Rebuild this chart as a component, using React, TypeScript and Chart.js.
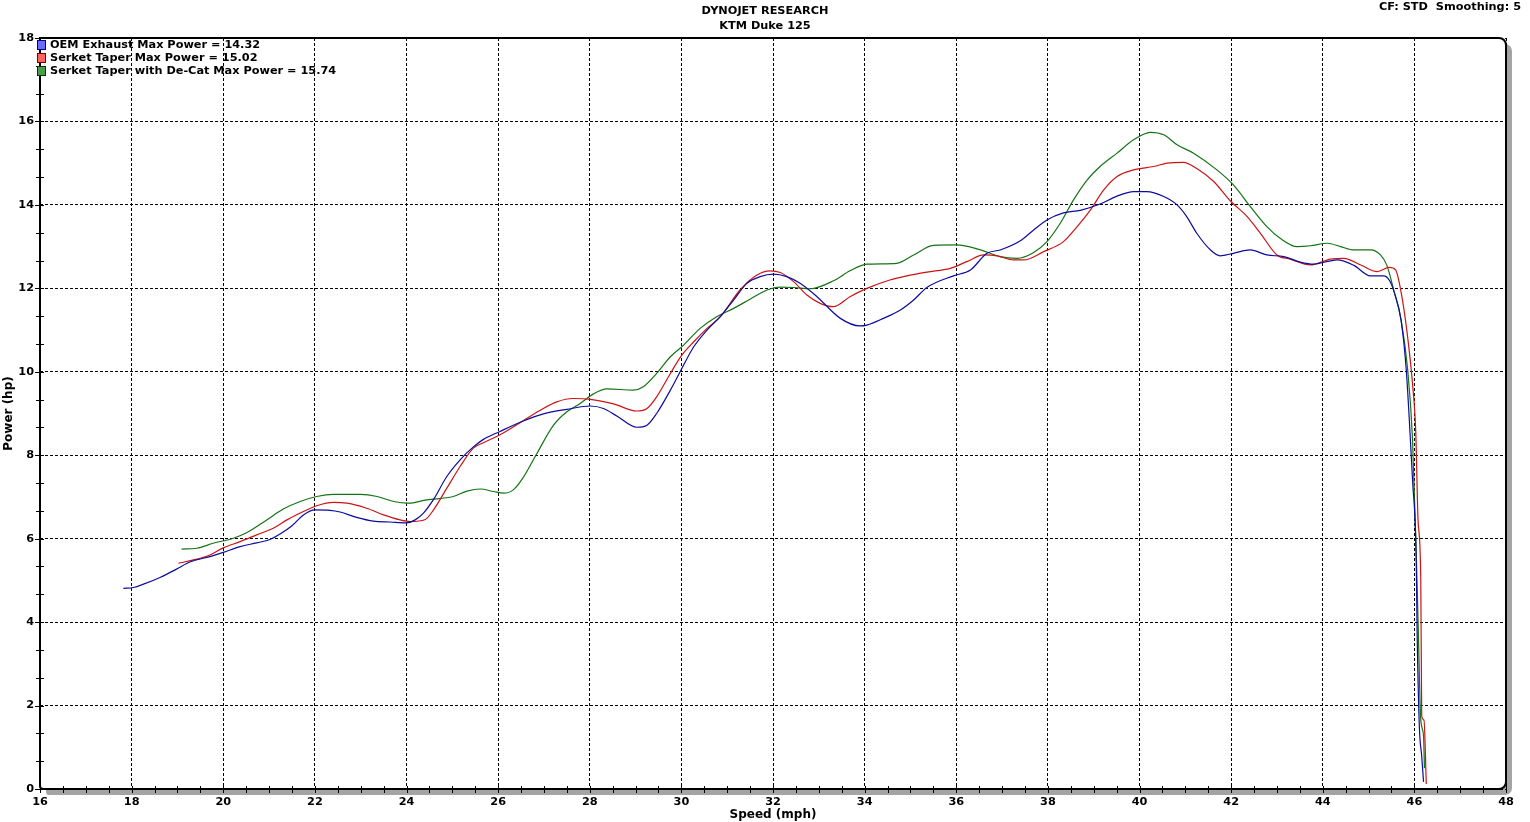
import { useEffect, useRef } from 'react'
import { Chart, registerables, Plugin } from 'chart.js'

Chart.register(...registerables)

const FONT = '"DejaVu Sans", Verdana, sans-serif'

// Speed (mph) / power (hp)
const oemSpeed = [
  17.82, 18.04, 18.26, 18.62, 18.98, 19.27, 19.71, 20.0, 20.37, 20.73, 21.02, 21.24, 21.5, 21.75, 22.0, 22.33,
  22.55, 22.91, 23.28, 23.64, 24.0, 24.19, 24.37, 24.59, 24.88, 25.17, 25.46, 25.68, 26.04, 26.55, 26.99, 27.5,
  28.01, 28.3, 28.59, 29.03, 29.25, 29.46, 29.76, 30.01, 30.27, 30.56, 30.85, 31.14, 31.43, 31.72, 32.01, 32.3,
  32.59, 32.96, 33.47, 33.9, 34.05, 34.41, 34.78, 35.07, 35.36, 35.94, 36.31, 36.67, 36.96, 37.4, 37.69, 37.98,
  38.34, 38.71, 39.14, 39.51, 39.87, 40.16, 40.53, 40.82, 41.03, 41.25, 41.55, 41.76, 42.05, 42.42, 42.78, 43.15,
  43.51, 43.8, 44.17, 44.31, 44.68, 45.04, 45.33, 45.45, 45.56, 45.71, 45.82, 45.89, 45.96, 46.04, 46.06, 46.11,
  46.16, 46.2,
]
const oemPower = [
  4.81, 4.83, 4.91, 5.07, 5.27, 5.44, 5.57, 5.67, 5.81, 5.9, 5.98, 6.11, 6.31, 6.57, 6.69, 6.68,
  6.64, 6.51, 6.42, 6.4, 6.38, 6.45, 6.61, 6.94, 7.49, 7.89, 8.2, 8.38, 8.57, 8.82, 8.99, 9.1,
  9.18, 9.12, 8.94, 8.67, 8.72, 9.0, 9.56, 10.08, 10.6, 11.0, 11.32, 11.72, 12.12, 12.28, 12.34, 12.28,
  12.12, 11.8, 11.28, 11.1, 11.12, 11.28, 11.48, 11.72, 12.02, 12.3, 12.44, 12.84, 12.92, 13.14, 13.4, 13.64,
  13.81, 13.87, 14.02, 14.21, 14.32, 14.32, 14.2, 14.0, 13.72, 13.32, 12.92, 12.78, 12.84, 12.92, 12.8, 12.76,
  12.63, 12.58, 12.66, 12.68, 12.55, 12.3, 12.3, 12.2, 11.91, 11.24, 10.09, 8.84, 7.41, 5.49, 3.76, 1.46,
  0.79, 0.17,
]

const taperSpeed = [
  19.02, 19.35, 19.71, 20.0, 20.37, 20.73, 21.09, 21.39, 21.75, 22.04, 22.41, 22.7, 23.13, 23.5, 23.86, 24.08,
  24.41, 24.59, 24.88, 25.17, 25.46, 25.68, 26.04, 26.48, 26.92, 27.28, 27.64, 28.01, 28.52, 29.03, 29.25, 29.46,
  29.76, 30.01, 30.27, 30.56, 30.85, 31.28, 31.65, 31.94, 32.16, 32.45, 32.74, 33.03, 33.32, 33.68, 34.05, 34.55,
  34.92, 35.36, 35.87, 36.23, 36.6, 36.89, 37.25, 37.47, 37.91, 38.34, 38.64, 38.93, 39.22, 39.51, 39.87, 40.31,
  40.6, 40.96, 41.25, 41.62, 41.98, 42.35, 42.64, 43.0, 43.29, 43.73, 44.17, 44.46, 44.83, 45.19, 45.45, 45.59,
  45.71, 45.84, 45.96, 46.03, 46.08, 46.14, 46.16, 46.21, 46.26,
]
const taperPower = [
  5.41, 5.49, 5.61, 5.78, 5.93, 6.09, 6.25, 6.45, 6.65, 6.79, 6.87, 6.85, 6.73, 6.57, 6.45, 6.41,
  6.46, 6.69, 7.21, 7.73, 8.17, 8.3, 8.49, 8.78, 9.08, 9.28, 9.36, 9.34, 9.23, 9.06, 9.12, 9.4,
  9.96, 10.4, 10.72, 11.04, 11.32, 11.96, 12.32, 12.42, 12.38, 12.16, 11.84, 11.64, 11.56, 11.8, 12.0, 12.2,
  12.3, 12.39, 12.48, 12.64, 12.8, 12.78, 12.68, 12.68, 12.88, 13.12, 13.48, 13.88, 14.36, 14.68, 14.84, 14.92,
  15.0, 15.02, 14.87, 14.56, 14.1, 13.72, 13.32, 12.8, 12.7, 12.56, 12.7, 12.72, 12.56, 12.4, 12.5, 12.44,
  11.91, 10.95, 9.71, 8.56, 6.45, 5.01, 1.75, 1.65, 0.12,
]

const decatSpeed = [
  19.09, 19.42, 19.78, 20.22, 20.51, 20.95, 21.31, 21.68, 22.04, 22.41, 22.99, 23.36, 23.72, 24.04, 24.44, 25.02,
  25.32, 25.61, 25.9, 26.12, 26.33, 26.55, 26.84, 27.21, 27.5, 27.79, 28.08, 28.37, 28.95, 29.17, 29.46, 29.76,
  30.05, 30.41, 30.77, 31.14, 31.5, 31.87, 32.16, 32.45, 32.81, 33.32, 33.68, 34.05, 34.7, 35.07, 35.5, 36.01,
  36.53, 36.96, 37.33, 37.69, 37.98, 38.27, 38.56, 38.86, 39.14, 39.51, 39.87, 40.24, 40.53, 40.82, 41.18, 41.69,
  42.05, 42.42, 42.78, 43.07, 43.44, 43.73, 44.1, 44.39, 44.68, 45.04, 45.26, 45.4, 45.56, 45.71, 45.85, 45.96,
  46.04, 46.08, 46.14, 46.2, 46.22,
]
const decatPower = [
  5.75, 5.77, 5.89, 6.01, 6.14, 6.45, 6.71, 6.89, 7.01, 7.06, 7.06, 7.01, 6.89, 6.85, 6.93, 7.01,
  7.14, 7.19, 7.13, 7.09, 7.17, 7.47, 8.03, 8.72, 9.04, 9.24, 9.47, 9.59, 9.56, 9.64, 9.96, 10.36,
  10.64, 11.04, 11.32, 11.52, 11.74, 11.96, 12.03, 12.02, 11.99, 12.18, 12.42, 12.58, 12.6, 12.8, 13.03, 13.04,
  12.92, 12.76, 12.72, 12.86, 13.12, 13.56, 14.12, 14.6, 14.92, 15.24, 15.56, 15.74, 15.68, 15.44, 15.24, 14.84,
  14.48, 13.96, 13.48, 13.2, 13.0, 13.02, 13.08, 13.0, 12.92, 12.92, 12.8, 12.55, 11.91, 11.24, 10.09, 8.37,
  5.68, 4.05, 1.65, 1.27, 0.5,
]

const runNames = ['OEM Exhaust', 'Serket Taper', 'Serket Taper with De-Cat']
const maxPower = [14.32, 15.02, 15.74]
const lineColors = ['#0c0c9e', '#cc1414', '#147414']
const swatchFill = ['#6a6aff', '#ff6464', '#4c9c4c']
const swatchEdge = ['#000080', '#7a0000', '#003800']

const speedTicks = [16, 18, 20, 22, 24, 26, 28, 30, 32, 34, 36, 38, 40, 42, 44, 46, 48]
const powerTicks = [0, 2, 4, 6, 8, 10, 12, 14, 16, 18]

const headerLines = ['DYNOJET RESEARCH', 'KTM Duke 125']
const runInfo = 'CF: STD  Smoothing: 5'

const toPoints = (xs: number[], ys: number[]) => xs.map((x, i) => ({ x, y: ys[i] }))

// frame with drop shadow, minor ticks, legend and header text
const dynoSheet: Plugin = {
  id: 'dynoSheet',
  beforeDraw(chart) {
    const { ctx, chartArea: a } = chart
    const w = a.right - a.left
    const h = a.bottom - a.top
    ctx.save()
    ctx.fillStyle = '#fff'
    ctx.fillRect(0, 0, chart.width, chart.height)
    ctx.fillStyle = '#a4a4a4'
    ctx.beginPath()
    ctx.roundRect(a.left + 6, a.top + 6, w, h, [0, 7, 7, 3])
    ctx.fill()
    ctx.fillStyle = '#fff'
    ctx.beginPath()
    ctx.roundRect(a.left, a.top, w, h, [0, 7, 7, 3])
    ctx.fill()
    ctx.restore()
  },
  afterDraw(chart) {
    const { ctx, chartArea: a } = chart
    const xs = chart.scales.x
    const ys = chart.scales.y
    ctx.save()

    ctx.strokeStyle = '#000'
    ctx.lineWidth = 2
    ctx.beginPath()
    ctx.roundRect(a.left, a.top, a.right - a.left, a.bottom - a.top, [0, 7, 7, 3])
    ctx.stroke()

    ctx.lineWidth = 1
    ctx.beginPath()
    for (let v = 16; v <= 48; v += 0.5) {
      const px = Math.round(xs.getPixelForValue(v)) + 0.5
      ctx.moveTo(px, a.bottom - 3)
      ctx.lineTo(px, a.bottom + 4)
    }
    for (let i = 0; i <= 27; i++) {
      const py = Math.round(ys.getPixelForValue((i * 2) / 3)) + 0.5
      ctx.moveTo(a.left - (i % 3 === 0 ? 5 : 4), py)
      ctx.lineTo(a.left + 4, py)
    }
    ctx.stroke()

    ctx.font = `bold 11.3px ${FONT}`
    ctx.textBaseline = 'middle'
    ctx.textAlign = 'left'
    runNames.forEach((name, i) => {
      const cy = a.top + 7 + i * 13
      ctx.fillStyle = swatchFill[i]
      ctx.fillRect(a.left - 2.5, cy - 4.5, 8, 9)
      ctx.strokeStyle = swatchEdge[i]
      ctx.strokeRect(a.left - 2.5, cy - 4.5, 8, 9)
      ctx.fillStyle = '#000'
      ctx.fillText(`${name} Max Power = ${maxPower[i].toFixed(2)}`, a.left + 10, cy + 0.5)
    })

    ctx.textAlign = 'center'
    headerLines.forEach((line, i) => ctx.fillText(line, chart.width / 2, 11 + i * 15.5))
    ctx.textAlign = 'right'
    ctx.fillText(runInfo, chart.width - 9, 7)
    ctx.restore()
  },
}

export default function App() {
  const chartRef = useRef<HTMLCanvasElement>(null)
  const chartInstance = useRef<Chart | null>(null)

  useEffect(() => {
    if (!chartRef.current) return
    if (chartInstance.current) chartInstance.current.destroy()

    const tickFont = { family: FONT, size: 11.3, weight: 'bold' as const }
    const titleFont = { family: FONT, size: 12, weight: 'bold' as const }
    const series = [
      toPoints(oemSpeed, oemPower),
      toPoints(taperSpeed, taperPower),
      toPoints(decatSpeed, decatPower),
    ]

    chartInstance.current = new Chart(chartRef.current, {
      type: 'line',
      data: {
        datasets: series.map((data, i) => ({
          label: runNames[i],
          data,
          borderColor: lineColors[i],
          borderWidth: 1.2,
          pointRadius: 0,
          cubicInterpolationMode: 'monotone' as const,
          fill: false,
        })),
      },
      options: {
        responsive: true,
        maintainAspectRatio: false,
        animation: false,
        layout: { padding: { top: 38, right: 24, left: 0, bottom: 0 } },
        plugins: {
          legend: { display: false },
          title: { display: false },
          tooltip: { enabled: false },
        },
        scales: {
          x: {
            type: 'linear',
            min: 16,
            max: 48,
            afterBuildTicks: (scale) => {
              scale.ticks = speedTicks.map((value) => ({ value }))
            },
            afterFit: (scale) => {
              scale.height = 33
              scale.paddingLeft = 0
              scale.paddingRight = 0
            },
            ticks: { font: tickFont, color: '#000', padding: 6, maxRotation: 0, autoSkip: false },
            grid: { color: '#000', lineWidth: 1, drawTicks: false },
            border: { display: false, dash: [3, 2] },
            title: { display: true, text: 'Speed (mph)', font: titleFont, color: '#000', padding: { top: 0, bottom: 0 } },
          },
          y: {
            min: 0,
            max: 18,
            afterBuildTicks: (scale) => {
              scale.ticks = powerTicks.map((value) => ({ value }))
            },
            afterFit: (scale) => {
              scale.width = 40
              scale.paddingTop = 0
              scale.paddingBottom = 0
            },
            ticks: { font: tickFont, color: '#000', padding: 6, autoSkip: false },
            grid: { color: '#000', lineWidth: 1, drawTicks: false },
            border: { display: false, dash: [3, 2] },
            title: { display: true, text: 'Power (hp)', font: titleFont, color: '#000', padding: { top: 2, bottom: 0 } },
          },
        },
      },
      plugins: [dynoSheet],
    })

    return () => {
      if (chartInstance.current) {
        chartInstance.current.destroy()
        chartInstance.current = null
      }
    }
  }, [])

  return (
    <div style={{ position: 'fixed', left: 0, top: 0, width: 1530, height: 822, background: '#fff' }}>
      <canvas ref={chartRef} />
    </div>
  )
}
